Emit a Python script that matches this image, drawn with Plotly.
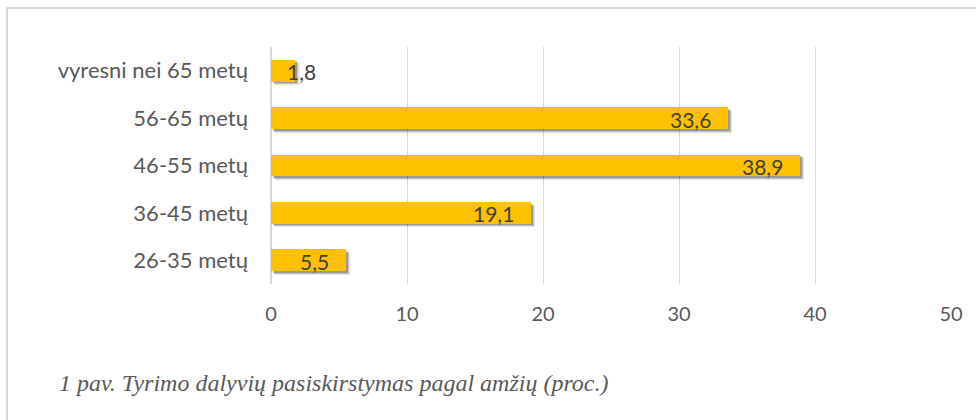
import plotly.graph_objects as go

categories = ["26-35 metų", "36-45 metų", "46-55 metų", "56-65 metų", "vyresni nei 65 metų"]
values = [5.5, 19.1, 38.9, 33.6, 1.8]
value_labels = ["5,5", "19,1", "38,9", "33,6", "1,8"]
x_ticks = [0, 10, 20, 30, 40, 50]
caption = "1 pav. Tyrimo dalyvių pasiskirstymas pagal amžių (proc.)"

W, H = 976, 420
L, R, T, B = 271, 25, 47, 136
pw, ph = W - L - R, H - T - B

bar_w = 0.46
fig = go.Figure()
# soft shadow layers
for k, (dx, dy, a) in enumerate([(0.30, 0.075, 0.10), (0.22, 0.055, 0.15), (0.14, 0.035, 0.22)]):
    fig.add_trace(go.Bar(
        y=categories, x=values, base=dx, orientation="h",
        width=bar_w, offset=-bar_w / 2 - dy,
        marker=dict(color=f"rgba(0,0,0,{a})", line=dict(width=0)),
        hoverinfo="skip", showlegend=False,
    ))
fig.add_trace(go.Bar(
    y=categories, x=values, orientation="h", width=bar_w, offset=-bar_w / 2,
    marker=dict(color="#FFC000", line=dict(width=0)),
    showlegend=False,
))

for c, v, t in zip(categories, values, value_labels):
    small = v < 3
    fig.add_annotation(
        x=v, y=c, xref="x", yref="y", text=t, showarrow=False,
        xanchor="center" if small else "right",
        xshift=6 if small else -15, yshift=-1,
        font=dict(family="Lato", size=21, color="#404040"),
    )

fig.add_annotation(
    x=(57 - L) / pw, y=(H - B - 383) / ph, xref="paper", yref="paper",
    xanchor="left", yanchor="middle", text=caption, showarrow=False,
    font=dict(family="Liberation Serif", size=24, color="#595959", style="italic"),
)

fig.add_shape(
    type="rect", xref="paper", yref="paper",
    x0=(7 - L) / pw, x1=(990 - L) / pw,
    y0=(H - B - 440) / ph, y1=(H - B - 8) / ph,
    line=dict(color="#D9D9D9", width=2), fillcolor="rgba(0,0,0,0)", layer="below",
)

fig.update_layout(
    width=W, height=H, margin=dict(l=L, r=R, t=T, b=B),
    paper_bgcolor="white", plot_bgcolor="white",
    barmode="overlay", bargap=0,
    font=dict(family="Lato", size=20, color="#595959"),
    xaxis=dict(range=[0, 50], tickvals=x_ticks, showgrid=True, gridcolor="#D9D9D9",
               gridwidth=1, zeroline=True, zerolinecolor="#D9D9D9", zerolinewidth=2,
               showline=False, ticks="", ticklabelstandoff=16,
               tickfont=dict(family="Lato", size=20, color="#595959"), fixedrange=True),
    yaxis=dict(categoryorder="array", categoryarray=categories, showgrid=False,
               zeroline=False, showline=False, ticks="", ticklabelstandoff=22,
               tickfont=dict(family="Lato", size=22, color="#595959"), fixedrange=True),
)

fig.write_html("out.html", config={"displayModeBar": False},
               post_script="document.body.style.margin='0';document.body.style.padding='0';")
